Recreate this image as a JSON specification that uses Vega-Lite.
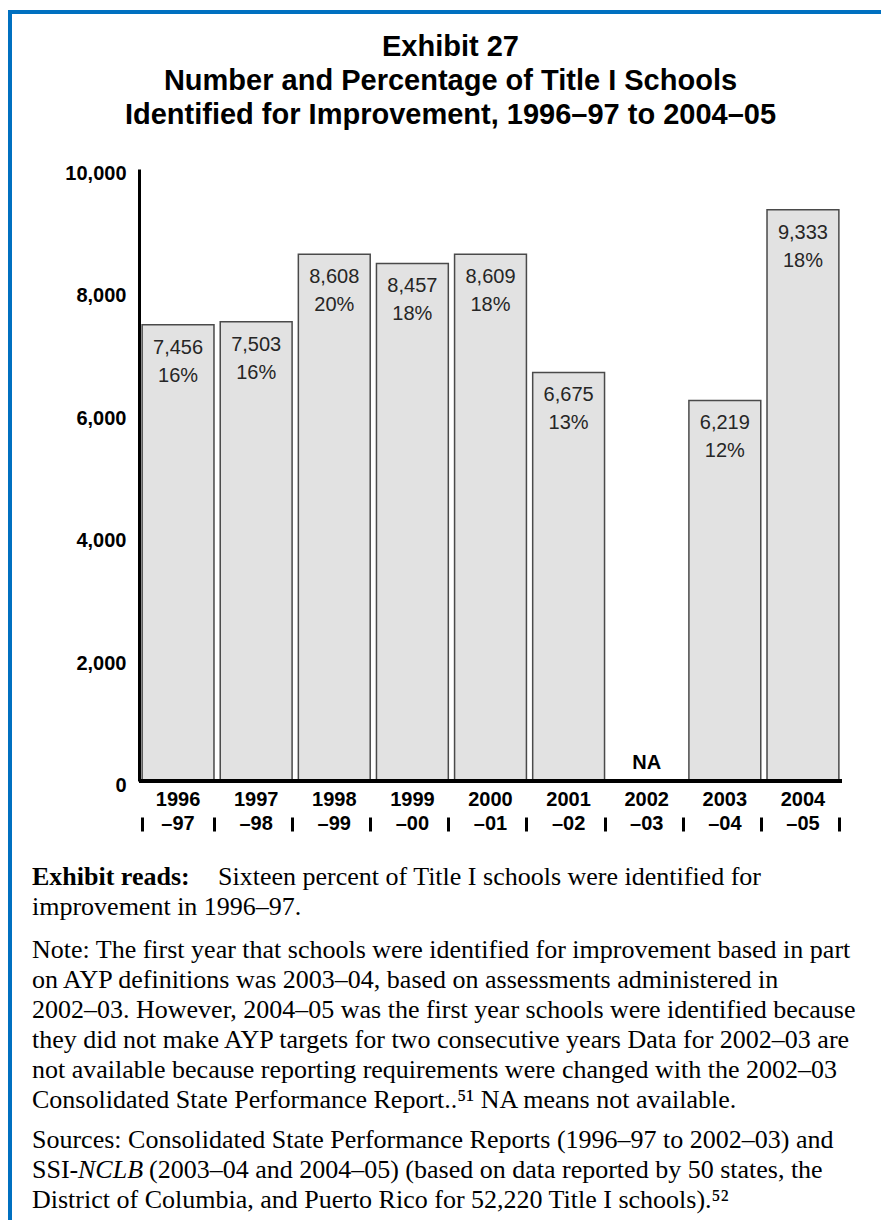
{
  "$schema": "https://vega.github.io/schema/vega-lite/v6.json",
  "padding": {"left": 7, "top": 9, "right": 0, "bottom": 0},
  "background": "white",
  "config": {"view": {"stroke": null}},
  "bounds": "flush",
  "spacing": 0,
  "vconcat": [
    {
      "width": 874, "height": 4,
      "view": {"fill": "#0070C0", "stroke": null},
      "data": {"values": [{}]},
      "mark": {"type": "point", "opacity": 0},
      "encoding": {}
    },
    {
      "bounds": "flush",
      "spacing": 127,
      "hconcat": [
        {
          "width": 4, "height": 1207,
          "view": {"fill": "#0070C0", "stroke": null},
          "data": {"values": [{}]},
          "mark": {"type": "point", "opacity": 0},
          "encoding": {}
        },
        {
          "bounds": "flush",
          "spacing": 10,
          "vconcat": [
            {
              "width": 703, "height": 145,
              "data": {"values": [{}]},
              "mark": {"type": "point", "opacity": 0},
              "encoding": {}
            },
            {
              "width": 703, "height": 612,
              "title": {
                "text": ["Exhibit 27", "Number and Percentage of Title I Schools", "Identified for Improvement, 1996–97 to 2004–05"],
                "font": "Liberation Sans", "fontSize": 29, "fontWeight": "bold", "lineHeight": 34,
                "color": "black", "anchor": "middle", "offset": 34, "dx": -40
              },
              "data": {"values": [
                {"year": "1996–97", "count": 7456, "pct": 0.16, "note": null},
                {"year": "1997–98", "count": 7503, "pct": 0.16, "note": null},
                {"year": "1998–99", "count": 8608, "pct": 0.20, "note": null},
                {"year": "1999–00", "count": 8457, "pct": 0.18, "note": null},
                {"year": "2000–01", "count": 8609, "pct": 0.18, "note": null},
                {"year": "2001–02", "count": 6675, "pct": 0.13, "note": null},
                {"year": "2002–03", "count": null, "pct": null, "note": "NA"},
                {"year": "2003–04", "count": 6219, "pct": 0.12, "note": null},
                {"year": "2004–05", "count": 9333, "pct": 0.18, "note": null}
              ]},
              "resolve": {"axis": {"x": "independent"}},
              "layer": [
                {
                  "mark": {"type": "bar", "fill": "#e2e2e2", "stroke": "#4a4a4a", "strokeWidth": 1.5},
                  "encoding": {
                    "x": {
                      "field": "year", "type": "nominal", "sort": null,
                      "scale": {"domain": ["1996–97", "1997–98", "1998–99", "1999–00", "2000–01", "2001–02", "2002–03", "2003–04", "2004–05"], "paddingInner": 0.08, "paddingOuter": 0.04},
                      "axis": {
                        "orient": "bottom", "title": null, "domain": false, "ticks": false,
                        "labelAngle": 0, "labelFont": "Liberation Sans", "labelFontWeight": "bold",
                        "labelFontSize": 20, "labelColor": "black", "labelLineHeight": 24,
                        "labelBaseline": "top", "labelPadding": 8,
                        "labelExpr": "[slice(datum.value,0,4), slice(datum.value,4)]"
                      }
                    },
                    "y": {
                      "field": "count", "type": "quantitative",
                      "scale": {"domain": [0, 10000], "nice": false},
                      "axis": {
                        "title": null, "grid": false, "ticks": false, "domainColor": "black", "domainWidth": 3,
                        "values": [0, 2000, 4000, 6000, 8000, 10000], "format": ",.0f",
                        "labelFont": "Liberation Sans", "labelFontWeight": "bold", "labelFontSize": 20,
                        "labelColor": "black", "labelPadding": 13, "labelOffset": 4.5
                      }
                    }
                  }
                },
                {
                  "mark": {"type": "rule", "color": "black", "strokeWidth": 3},
                  "encoding": {"y": {"datum": 0, "type": "quantitative"}}
                },
                {
                  "mark": {"type": "text", "font": "Liberation Sans", "fontSize": 20, "baseline": "middle", "dy": 23, "color": "#262626"},
                  "encoding": {
                    "x": {"field": "year", "type": "nominal", "sort": null, "axis": null},
                    "y": {"field": "count", "type": "quantitative"},
                    "text": {"field": "count", "type": "quantitative", "format": ","}
                  }
                },
                {
                  "mark": {"type": "text", "font": "Liberation Sans", "fontSize": 20, "baseline": "middle", "dy": 51, "color": "#262626"},
                  "encoding": {
                    "x": {"field": "year", "type": "nominal", "sort": null, "axis": null},
                    "y": {"field": "count", "type": "quantitative"},
                    "text": {"field": "pct", "type": "quantitative", "format": ".0%"}
                  }
                },
                {
                  "transform": [{"filter": "datum.note != null"}],
                  "mark": {"type": "text", "font": "Liberation Sans", "fontWeight": "bold", "fontSize": 20, "baseline": "bottom", "dy": -8, "color": "black"},
                  "encoding": {
                    "x": {
                      "field": "year", "type": "nominal", "sort": null,
                      "axis": {
                        "orient": "bottom", "title": null, "domain": false, "labels": false,
                        "ticks": true, "tickBand": "extent", "tickSize": 14, "tickWidth": 3,
                        "tickColor": "black", "offset": 36
                      }
                    },
                    "y": {"datum": 0, "type": "quantitative"},
                    "text": {"field": "note"}
                  }
                }
              ]
            },
            {
              "width": 703, "height": 134,
              "data": {"values": [
                {"line": 1, "seg": "b", "text": "Exhibit reads:"},
                {"line": 1, "seg": "r", "text": "Sixteen percent of Title I schools were identified for"},
                {"line": 2, "seg": "n", "text": "improvement in 1996–97."}
              ]},
              "encoding": {
                "y": {"field": "line", "type": "ordinal", "axis": null, "scale": {"type": "point", "domain": [-1, 0, 1, 2], "padding": 0.733, "align": 0.59}},
                "x": {"datum": 0, "type": "quantitative", "axis": null, "scale": {"domain": [0, 1]}},
                "text": {"field": "text"}
              },
              "layer": [
                {"transform": [{"filter": "datum.seg == 'b'"}], "mark": {"type": "text", "align": "left", "baseline": "middle", "dx": -107, "font": "Liberation Serif", "fontSize": 26, "fontWeight": "bold", "color": "black"}},
                {"transform": [{"filter": "datum.seg == 'r'"}], "mark": {"type": "text", "align": "left", "baseline": "middle", "dx": 79, "font": "Liberation Serif", "fontSize": 26, "color": "black"}},
                {"transform": [{"filter": "datum.seg == 'n'"}], "mark": {"type": "text", "align": "left", "baseline": "middle", "dx": -107, "font": "Liberation Serif", "fontSize": 26, "color": "black"}}
              ]
            },
            {
              "width": 703, "height": {"step": 30},
              "data": {"values": [
                {"line": 1, "text": "Note:  The first year that schools were identified for improvement based in part"},
                {"line": 2, "text": "on AYP definitions was 2003–04, based on assessments administered in"},
                {"line": 3, "text": "2002–03.  However, 2004–05 was the first year schools were identified because"},
                {"line": 4, "text": "they did not make AYP targets for two consecutive years  Data for 2002–03 are"},
                {"line": 5, "text": "not available because reporting requirements were changed with the 2002–03"},
                {"line": 6, "text": "Consolidated State Performance Report..⁵¹  NA means not available."}
              ]},
              "mark": {"type": "text", "align": "left", "baseline": "middle", "dx": -107, "font": "Liberation Serif", "fontSize": 26, "color": "black"},
              "encoding": {
                "y": {"field": "line", "type": "ordinal", "axis": null, "scale": {"type": "point", "padding": 0.5}},
                "x": {"datum": 0, "type": "quantitative", "axis": null, "scale": {"domain": [0, 1]}},
                "text": {"field": "text"}
              }
            },
            {
              "width": 703, "height": {"step": 30},
              "data": {"values": [
                {"line": 1, "seg": "n", "text": "Sources:  Consolidated State Performance Reports (1996–97 to 2002–03) and"},
                {"line": 2, "seg": "n", "text": "SSI-"},
                {"line": 2, "seg": "i", "text": "NCLB"},
                {"line": 2, "seg": "r", "text": "(2003–04 and 2004–05) (based on data reported by 50 states, the"},
                {"line": 3, "seg": "n", "text": "District of Columbia, and Puerto Rico for 52,220 Title I schools).⁵²"}
              ]},
              "encoding": {
                "y": {"field": "line", "type": "ordinal", "axis": null, "scale": {"type": "point", "padding": 0.5}},
                "x": {"datum": 0, "type": "quantitative", "axis": null, "scale": {"domain": [0, 1]}},
                "text": {"field": "text"}
              },
              "layer": [
                {"transform": [{"filter": "datum.seg == 'n'"}], "mark": {"type": "text", "align": "left", "baseline": "middle", "dx": -107, "font": "Liberation Serif", "fontSize": 26, "color": "black"}},
                {"transform": [{"filter": "datum.seg == 'i'"}], "mark": {"type": "text", "align": "left", "baseline": "middle", "dx": -61, "font": "Liberation Serif", "fontSize": 26, "fontStyle": "italic", "color": "black"}},
                {"transform": [{"filter": "datum.seg == 'r'"}], "mark": {"type": "text", "align": "left", "baseline": "middle", "dx": 10, "font": "Liberation Serif", "fontSize": 26, "color": "black"}}
              ]
            }
          ]
        }
      ]
    }
  ]
}
